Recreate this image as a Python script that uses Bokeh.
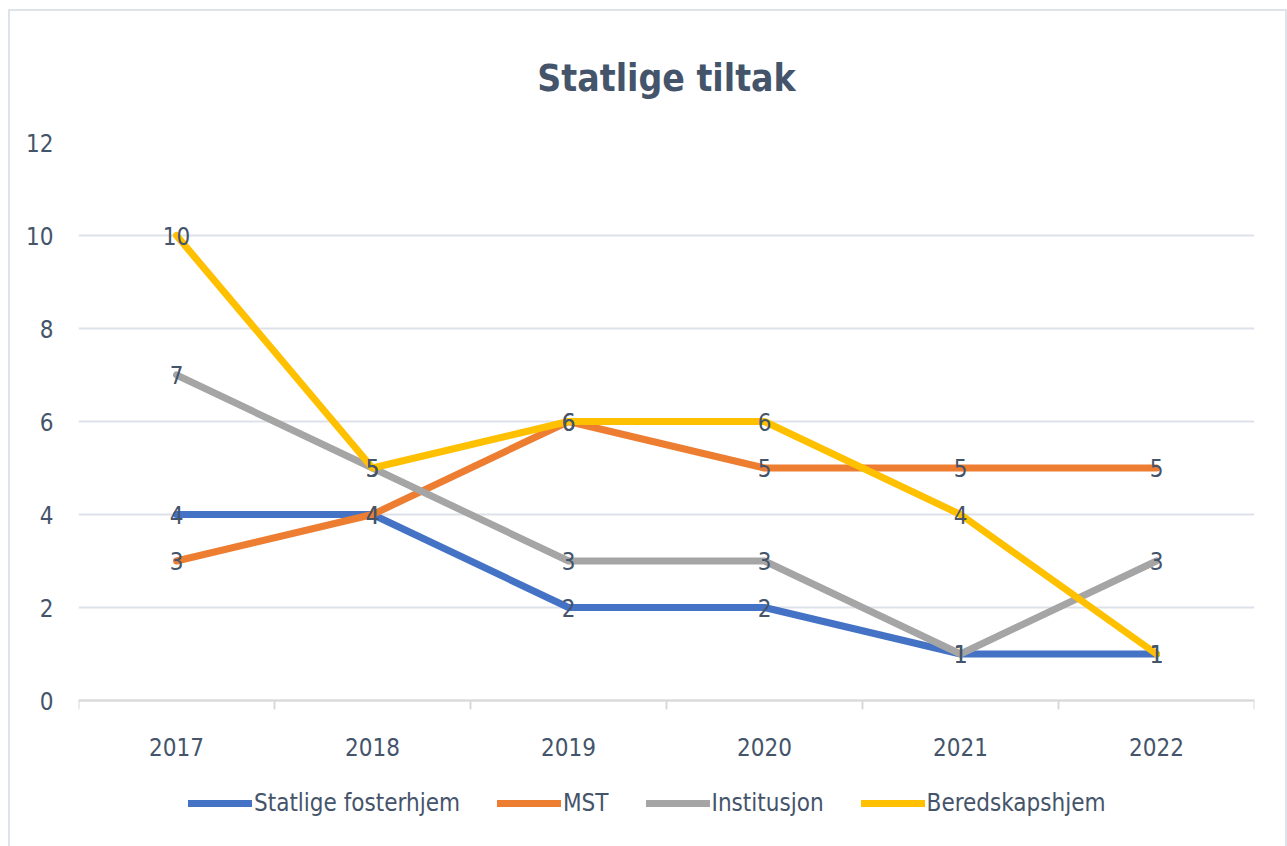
from bokeh.plotting import figure
from bokeh.models import (ColumnDataSource, Range1d, FixedTicker, Legend, LegendItem, Title)
from bokeh.core.properties import value
from bokeh.embed import file_html
from bokeh.resources import INLINE

years = ["2017", "2018", "2019", "2020", "2021", "2022"]
series_names = ["Statlige fosterhjem", "MST", "Institusjon", "Beredskapshjem"]
statlige_fosterhjem = [4, 4, 2, 2, 1, 1]
mst = [3, 4, 6, 5, 5, 5]
institusjon = [7, 5, 3, 3, 1, 3]
beredskapshjem = [10, 5, 6, 6, 4, 1]
colors = ["#4472C4", "#ED7D31", "#A5A5A5", "#FFC000"]
y_ticks = [0, 2, 4, 6, 8, 10, 12]

FONT = "Liberation Sans Narrow, DejaVu Sans Condensed, Liberation Sans"
TXT = "#44546A"

xpos = [i + 0.5 for i in range(len(years))]

# frame extends below y=0 to make room for the legend inside the frame
FRAME_H = 704
Y_TOP = 12
Y_BOTTOM = Y_TOP - FRAME_H / (558 / 12)

p = figure(frame_width=1176, frame_height=FRAME_H, output_backend="svg", toolbar_location=None,
           x_range=Range1d(0, len(years)), y_range=Range1d(Y_BOTTOM, Y_TOP),
           min_border_left=68, min_border_right=31, min_border_top=131, min_border_bottom=0,
           styles={"border": "2px solid #DEE3EA", "margin": "9px 0px 0px 8px"})
p.outline_line_color = None
p.background_fill_color = "white"
p.border_fill_color = "white"

t = Title(text="Statlige tiltak", align="center", text_font=FONT, text_font_size="37px",
          text_font_style="bold", text_color=TXT, offset=0, standoff=85)
p.add_layout(t, "above")

p.xgrid.visible = False
p.ygrid.grid_line_color = "#DDE2EA"
p.ygrid.grid_line_width = 2
p.yaxis.ticker = FixedTicker(ticks=y_ticks)
p.yaxis.axis_line_color = None
p.yaxis.major_tick_line_color = None
p.yaxis.minor_tick_line_color = None
p.yaxis.major_tick_out = 0
p.yaxis.major_label_standoff = 25
p.yaxis.major_label_text_font = FONT
p.yaxis.major_label_text_font_size = "24px"
p.yaxis.major_label_text_color = TXT

p.xaxis.fixed_location = 0
p.xaxis.ticker = FixedTicker(ticks=xpos, minor_ticks=list(range(len(years) + 1)))
p.xaxis.major_label_overrides = {x: y for x, y in zip(xpos, years)}
p.xaxis.axis_line_color = "#D9D9D9"
p.xaxis.axis_line_width = 2
p.xaxis.major_tick_line_color = None
p.xaxis.major_tick_out = 0
p.xaxis.minor_tick_line_color = "#D9D9D9"
p.xaxis.minor_tick_line_width = 2
p.xaxis.minor_tick_out = 9
p.xaxis.minor_tick_in = 0
p.xaxis.major_label_standoff = 28
p.xaxis.major_label_text_font = FONT
p.xaxis.major_label_text_font_size = "24px"
p.xaxis.major_label_text_color = TXT

data = [statlige_fosterhjem, mst, institusjon, beredskapshjem]
items = []
sources = []
for name, vals, c in zip(series_names, data, colors):
    src = ColumnDataSource(dict(x=xpos, y=vals, lbl=[str(v) for v in vals]))
    sources.append(src)
    r = p.line("x", "y", source=src, line_color=c, line_width=7, line_cap="round", line_join="round")
    items.append(LegendItem(label=name, renderers=[r]))

for src in sources:
    p.text("x", "y", text="lbl", source=src, text_align="center", text_baseline="middle",
           text_font=value(FONT), text_font_size="24px", text_color=TXT)

leg = Legend(items=items, orientation="horizontal", location=(110, 29),
             glyph_width=64, glyph_height=20, label_standoff=2, spacing=37,
             label_text_font=FONT, label_text_font_size="24px", label_text_color=TXT,
             border_line_color=None, background_fill_alpha=0, margin=0, padding=0)
p.add_layout(leg)

open("out.html", "w").write(file_html(p, INLINE))
